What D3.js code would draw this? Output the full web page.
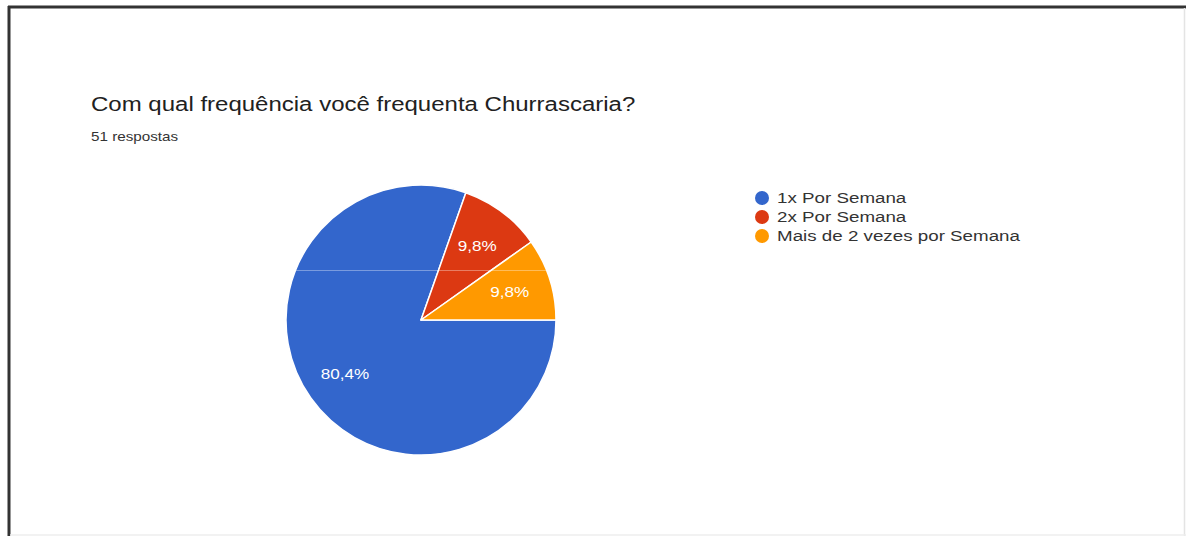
<!DOCTYPE html>
<html>
<head>
<meta charset="utf-8">
<script src="https://cdn.jsdelivr.net/npm/d3@7"></script>
<style>
  html, body { margin: 0; padding: 0; background: #ffffff; }
  svg { display: block; font-family: Arial, "Liberation Sans", Helvetica, sans-serif; }
</style>
</head>
<body>
<svg id="chart" width="1186" height="536"></svg>
<script>
// Survey answers: how often people go to a churrascaria
const categories = ["1x Por Semana", "2x Por Semana", "Mais de 2 vezes por Semana"];
const responses = [41, 5, 5];
const sliceColors = ["#3366cc", "#dc3912", "#ff9900"];
const titleText = "Com qual frequência você frequenta Churrascaria?";
const subtitleText = "51 respostas";

const W = 1186, H = 536;
const svg = d3.select("#chart");

// glyphs in this export are drawn a little wide
function stretch(factor) {
  return sel => sel.each(function () {
    const len = this.getComputedTextLength();
    d3.select(this).attr("textLength", len * factor).attr("lengthAdjust", "spacingAndGlyphs");
  });
}

svg.append("rect").attr("width", W).attr("height", H).attr("fill", "#ffffff");

// Title block
svg.append("text")
  .attr("x", 91).attr("y", 111)
  .attr("font-size", 20).attr("fill", "#212121")
  .text(titleText).call(stretch(1.2));

svg.append("text")
  .attr("x", 91).attr("y", 141)
  .attr("font-size", 13).attr("fill", "#333")
  .text(subtitleText).call(stretch(1.17));

// Pie
const cx = 421, cy = 320, radius = 135;
const total = d3.sum(responses);
const pie = d3.pie().sort(null)
  .startAngle(Math.PI / 2).endAngle(Math.PI / 2 + 2 * Math.PI);
const arcs = pie(responses);
const arc = d3.arc().innerRadius(0).outerRadius(radius);
const labelArc = d3.arc().innerRadius(radius * 0.69).outerRadius(radius * 0.69);
const color = d3.scaleOrdinal().domain(d3.range(categories.length)).range(sliceColors);
const pct = v => (v / total * 100).toFixed(1).replace(".", ",") + "%";

const g = svg.append("g").attr("transform", `translate(${cx},${cy})`);
g.selectAll("path.slice").data(arcs).join("path")
  .attr("class", "slice")
  .attr("d", arc)
  .attr("fill", (d, i) => color(i))
  .attr("stroke", "#ffffff")
  .attr("stroke-width", 1.5)
  .attr("stroke-linejoin", "round");

g.selectAll("text.pct").data(arcs).join("text")
  .attr("class", "pct")
  .attr("x", d => labelArc.centroid(d)[0])
  .attr("y", d => labelArc.centroid(d)[1])
  .attr("dy", "0.35em")
  .attr("text-anchor", "middle")
  .attr("font-size", 14)
  .attr("fill", "#ffffff")
  .text(d => pct(d.data))
  .call(stretch(1.22));

// Legend
const legendX = 762, legendY = 198, legendStep = 19;
const legend = svg.append("g");
const rows = legend.selectAll("g").data(categories).join("g")
  .attr("transform", (d, i) => `translate(${legendX},${legendY + i * legendStep})`);
rows.append("circle").attr("r", 7).attr("fill", (d, i) => color(i));
rows.append("text")
  .attr("x", 15).attr("dy", "0.35em")
  .attr("font-size", 14).attr("fill", "#333")
  .text(d => d)
  .call(stretch(1.34));

// Faint scan line across the page
svg.append("line")
  .attr("x1", 10).attr("x2", W).attr("y1", 270.5).attr("y2", 270.5)
  .attr("stroke", "#ffffff").attr("stroke-opacity", 0.35).attr("stroke-width", 1);

// Frame
svg.append("line").attr("x1", 8).attr("x2", W).attr("y1", 7).attr("y2", 7)
  .attr("stroke", "#333").attr("stroke-width", 3);
svg.append("line").attr("x1", 9).attr("x2", 9).attr("y1", 6).attr("y2", H)
  .attr("stroke", "#333").attr("stroke-width", 3);
svg.append("line").attr("x1", 1184.5).attr("x2", 1184.5).attr("y1", 8).attr("y2", H)
  .attr("stroke", "#e4e4e4").attr("stroke-width", 1.5);
svg.append("line").attr("x1", 10).attr("x2", W).attr("y1", 535).attr("y2", 535)
  .attr("stroke", "#eeeeee").attr("stroke-width", 1.5);
</script>
</body>
</html>
